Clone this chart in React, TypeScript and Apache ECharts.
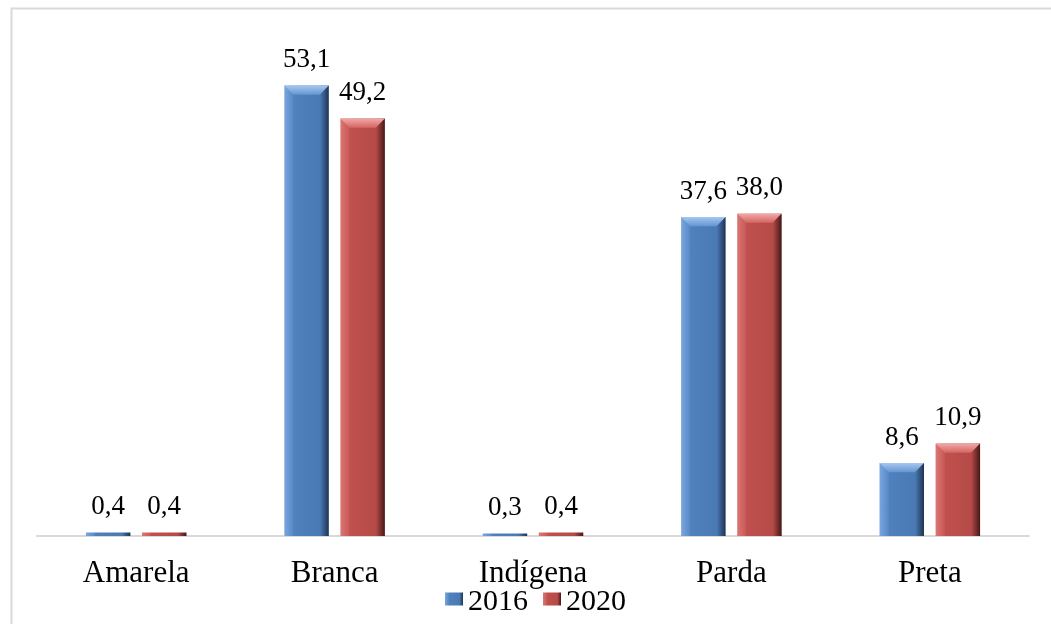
import React, { useEffect, useRef } from "react";
import * as echarts from "echarts";

// Percentages per group, two survey years
const categories = ["Amarela", "Branca", "Indígena", "Parda", "Preta"];
const seriesNames = ["2016", "2020"];
const values2016 = [0.4, 53.1, 0.3, 37.6, 8.6];
const values2020 = [0.4, 49.2, 0.4, 38.0, 10.9];

const FONT = "Liberation Serif";

// Shading stops across the bar width: light left edge, flat face, dark right edge
const shades = [
  ["#7AA6DD", "#5889C8", "#4F81BD", "#4A7AB4", "#1E3352"],
  ["#DA7774", "#C85956", "#C0504D", "#B54B48", "#461716"],
];
// Light bevel on the top of each bar
const capShades = [
  ["#A8C8EE", "#6496D3"],
  ["#F0AAA8", "#D66562"],
];

const barFill = (s: string[]) =>
  new echarts.graphic.LinearGradient(0, 0, 1, 0, [
    { offset: 0, color: s[0] },
    { offset: 0.2, color: s[1] },
    { offset: 0.21, color: s[2] },
    { offset: 0.78, color: s[3] },
    { offset: 0.8, color: s[3] },
    { offset: 1, color: s[4] },
  ]);

const capFill = (s: string[]) =>
  new echarts.graphic.LinearGradient(0, 0, 0, 1, [
    { offset: 0, color: s[0] },
    { offset: 1, color: s[1] },
  ]);

const fmt = (v: number) => v.toFixed(1).replace(".", ",");

const BAR_WIDTH = 44.5;
const BAR_GAP = "26%";

export default function App() {
  const ref = useRef<HTMLDivElement>(null);

  useEffect(() => {
    if (!ref.current) return;
    const chart = echarts.init(ref.current, null, { renderer: "svg" });
    const allValues = [values2016, values2020];

    const bars = seriesNames.map((name, si) => ({
      name,
      type: "bar",
      barWidth: BAR_WIDTH,
      barGap: BAR_GAP,
      z: 2,
      itemStyle: { color: barFill(shades[si]) },
      label: {
        show: true,
        position: "top",
        distance: 14,
        fontSize: 27,
        fontFamily: FONT,
        color: "#000",
        formatter: (p: any) => fmt(p.value),
      },
      data: allValues[si],
    }));

    // Bevel caps drawn at the top end of the taller bars
    const caps = seriesNames.map((name, si) => ({
      name: "cap " + name,
      type: "pictorialBar",
      barWidth: BAR_WIDTH,
      barGap: BAR_GAP,
      z: 3,
      silent: true,
      symbol: "path://M0,0 L44,0 L35,9 L9,9 Z",
      symbolSize: [BAR_WIDTH, 9],
      symbolPosition: "end",
      itemStyle: { color: capFill(capShades[si]) },
      label: { show: false },
      data: allValues[si].map((v) => (v >= 2 ? v : "-")),
    }));

    chart.setOption({
      animation: false,
      graphic: [
        {
          type: "rect",
          left: 9,
          top: 6,
          shape: { x: 0, y: 0, width: 1070, height: 660 },
          style: { fill: "none", stroke: "#D9D9D9", lineWidth: 2 },
          silent: true,
        },
      ],
      grid: { left: 37, right: 22, top: 27, bottom: 88 },
      legend: {
        top: 584,
        left: 445,
        padding: 0,
        itemWidth: 18,
        itemHeight: 13,
        itemGap: 15,
        icon: "rect",
        data: seriesNames,
        textStyle: { fontSize: 30, fontFamily: FONT, color: "#000" },
      },
      xAxis: {
        type: "category",
        data: categories,
        axisLine: { lineStyle: { color: "#D9D9D9", width: 2 } },
        axisTick: { show: false },
        axisLabel: { fontSize: 31, fontFamily: FONT, color: "#000", margin: 20 },
      },
      yAxis: { type: "value", min: 0, max: 60, show: false, splitLine: { show: false } },
      series: [...bars, ...caps],
    });
    return () => chart.dispose();
  }, []);

  return (
    <div
      ref={ref}
      style={{ position: "fixed", left: 0, top: 0, width: 1051, height: 624 }}
    />
  );
}
